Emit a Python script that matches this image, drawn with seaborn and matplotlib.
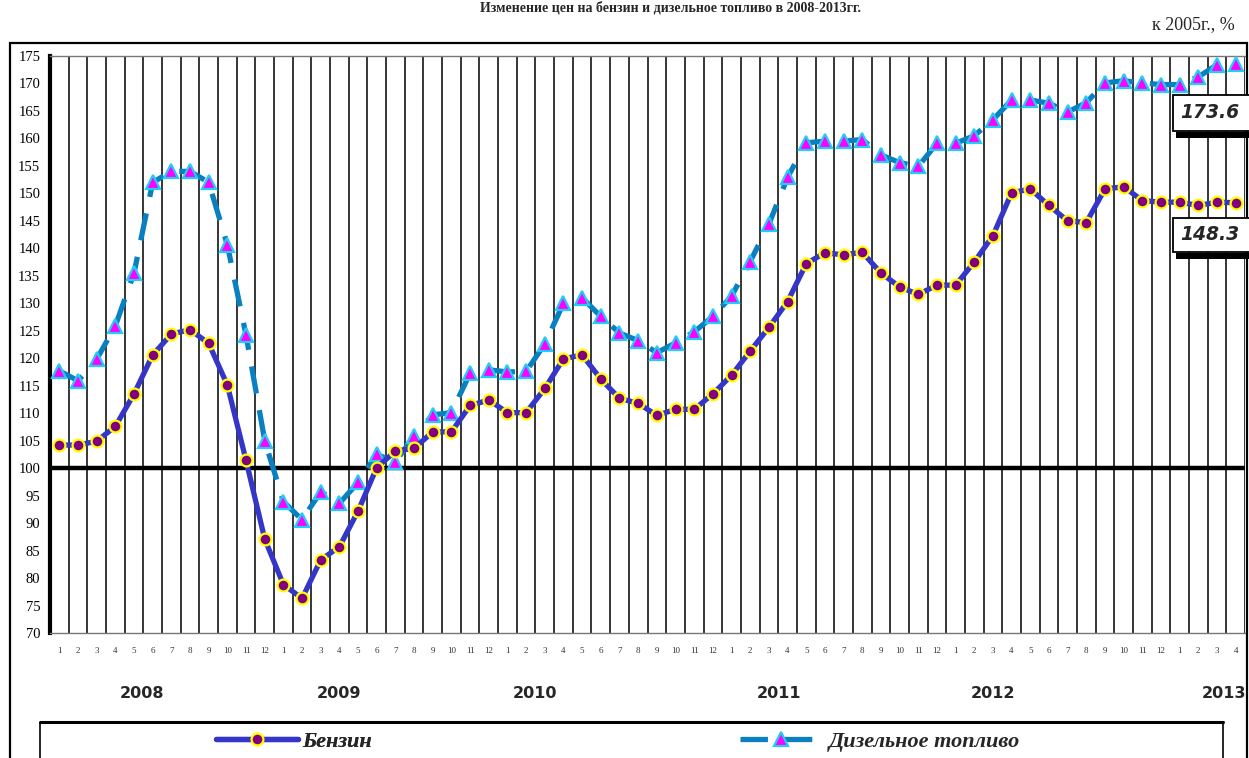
import numpy as np
import pandas as pd
import matplotlib
matplotlib.use("Agg")
import matplotlib.pyplot as plt
import matplotlib.patches as mpatches
import matplotlib.transforms as mtransforms
from matplotlib.lines import Line2D
import seaborn as sns

# ---------------- data ----------------
years = ["2008", "2009", "2010", "2011", "2012", "2013"]
months_per_year = [12, 12, 12, 12, 12, 4]
month_labels = [str(m) for n in months_per_year for m in range(1, n + 1)]

gasoline = [104.2, 104.2, 104.9, 107.6, 113.5, 120.6, 124.4, 125.2, 122.7, 115.1, 101.4, 87.1,
            78.8, 76.3, 83.3, 85.7, 92.2, 100.1, 103.1, 103.6, 106.6, 106.6, 111.4, 112.4,
            110.1, 110.1, 114.5, 119.9, 120.6, 116.2, 112.7, 111.8, 109.6, 110.7, 110.7, 113.5,
            116.9, 121.3, 125.6, 130.3, 137.2, 139.2, 138.8, 139.3, 135.5, 133.0, 131.6, 133.3,
            133.3, 137.5, 142.3, 150.1, 150.8, 147.8, 145.0, 144.7, 150.8, 151.2, 148.7, 148.4,
            148.4, 147.8, 148.4, 148.3]

diesel = [117.7, 115.9, 119.8, 125.9, 135.5, 152.0, 154.0, 154.0, 152.0, 140.6, 124.2, 105.0,
          93.9, 90.6, 95.7, 93.6, 97.4, 102.5, 101.1, 105.9, 109.7, 110.1, 117.3, 117.9,
          117.5, 117.6, 122.6, 130.0, 131.0, 127.6, 124.6, 123.2, 121.0, 122.8, 124.8, 127.6,
          131.3, 137.6, 144.4, 152.9, 159.2, 159.5, 159.5, 159.8, 157.0, 155.6, 154.9, 159.1,
          159.1, 160.5, 163.4, 167.0, 167.0, 166.4, 164.8, 166.5, 170.1, 170.5, 170.1, 169.8,
          169.8, 171.2, 173.4, 173.6]

series_names = ["Бензин", "Дизельное топливо"]
title_text = "Изменение цен на бензин и дизельное топливо в 2008-2013гг."
unit_text = "к 2005г., %"

# ---------------- figure ----------------
sns.set_style("white")
plt.rcParams["font.family"] = ["Liberation Serif", "DejaVu Serif"]

W, H = 1249, 758
fig = plt.figure(figsize=(W / 100, H / 100), dpi=100)

def fx(px):
    return px / W

def fy(py):
    return 1 - py / H

ax_left, ax_right, ax_top, ax_bot = 50, 1245, 56, 633
ax = fig.add_axes([fx(ax_left), fy(ax_bot), fx(ax_right - ax_left), (ax_bot - ax_top) / H])

n = len(month_labels)
xpos = np.arange(n) + 0.5
df = pd.DataFrame({"x": xpos, "gas": gasoline, "dsl": diesel})

# vertical category gridlines
ax.set_xlim(0, n)
ax.set_xticks(np.arange(1, n + 1), minor=True)
ax.grid(which="minor", axis="x", color="black", lw=1.1, zorder=0)
ax.grid(which="major", axis="both", visible=False)
ax.set_axisbelow(True)

# reference line at 100
ax.axhline(100, color="black", lw=3.2, zorder=1)

sns.lineplot(data=df, x="x", y="dsl", ax=ax, color="#0A80C0", lw=3.8,
             linestyle=(0, (5.2, 3.2)), marker="^", markersize=10.5,
             markerfacecolor="#FF00FF", markeredgecolor="#22CCF5", markeredgewidth=1.6,
             label=series_names[1], zorder=3, legend=False)
sns.lineplot(data=df, x="x", y="gas", ax=ax, color="#3535C8", lw=3.8,
             marker="o", markersize=8.5,
             markerfacecolor="#800080", markeredgecolor="#FFFF00", markeredgewidth=1.6,
             label=series_names[0], zorder=4, legend=False)

ax.set_ylim(70, 175)
ax.set_yticks(np.arange(70, 176, 5))
ax.set_xticks(xpos)
ax.set_xticklabels(month_labels, fontsize=6.5, color="#333333")
ax.tick_params(axis="x", which="both", length=0, pad=10)
ax.tick_params(axis="y", direction="out", length=4, width=2.5, labelsize=10.5, pad=3,
               colors="black")
ax.set_xlabel("")
ax.set_ylabel("")

ax.spines["left"].set_linewidth(3)
ax.spines["left"].set_color("black")
ax.spines["bottom"].set_color("#777777")
ax.spines["bottom"].set_linewidth(1)
ax.spines["top"].set_color("#777777")
ax.spines["top"].set_linewidth(1)
ax.spines["right"].set_visible(False)

# year labels
blend = mtransforms.blended_transform_factory(ax.transData, fig.transFigure)
year_x = [4.93, 15.5, 26.0, 39.05, 50.5, 62.9]
for yl, xv in zip(years, year_x):
    ax.text(xv, fy(694), yl, transform=blend, ha="center", va="center",
            fontsize=11.5, fontweight="bold", family="DejaVu Sans")

# outer frame
frame = mpatches.Rectangle((fx(10), -0.02), fx(1237), fy(42.7) + 0.02, transform=fig.transFigure,
                           fill=False, edgecolor="black", lw=1.6, zorder=0)
fig.patches.append(frame)

# title and unit note
fig.text(fx(671), fy(1), title_text, ha="center", va="top", fontsize=10,
         fontweight="bold")
fig.text(fx(1235), fy(25), unit_text, ha="right", va="center", fontsize=13)

# value boxes at right
for val, top, bot in [(diesel[-1], 95, 131), (gasoline[-1], 218, 252)]:
    box = mpatches.Rectangle((fx(1173), fy(bot)), fx(90), (bot - top) / H,
                             transform=fig.transFigure, facecolor="white",
                             edgecolor="black", lw=1.3, zorder=5)
    fig.patches.append(box)
    shadow = mpatches.Rectangle((fx(1176), fy(bot + 6.5)), fx(90), 5.5 / H,
                                transform=fig.transFigure, facecolor="black",
                                edgecolor="none", zorder=5)
    fig.patches.append(shadow)
    fig.text(fx(1180), fy((top + bot) / 2), f"{val:.1f}",
             ha="left", va="center", fontsize=13.5, fontweight="bold", fontstyle="italic",
             family="DejaVu Sans", zorder=6)

# legend box
lbox = mpatches.Rectangle((fx(40), -0.02), fx(1183), fy(722.5) + 0.02, transform=fig.transFigure,
                          fill=False, edgecolor="black", lw=1.2, zorder=0)
fig.patches.append(lbox)
fig.add_artist(Line2D([fx(40), fx(1223)], [fy(721.5), fy(721.5)], transform=fig.transFigure,
                      color="black", lw=2.2))

h_gas, h_dsl = ax.get_lines()[-1], ax.get_lines()[-2]
leg_font = {"family": "Liberation Serif", "weight": "bold", "style": "italic", "size": 16}
leg1 = fig.legend([h_gas], [series_names[0]], loc="center left",
                  bbox_to_anchor=(fx(216), fy(741.5)), frameon=False, handlelength=3.7,
                  handletextpad=0.2, prop=leg_font, numpoints=1, borderpad=0, borderaxespad=0)
leg2 = fig.legend([h_dsl], [series_names[1]], loc="center left",
                  bbox_to_anchor=(fx(740), fy(741.5)), frameon=False, handlelength=3.7,
                  handletextpad=0.3, prop=leg_font, numpoints=1, borderpad=0, borderaxespad=0)
fig.add_artist(leg1)

fig.savefig("out.png", dpi=100)
